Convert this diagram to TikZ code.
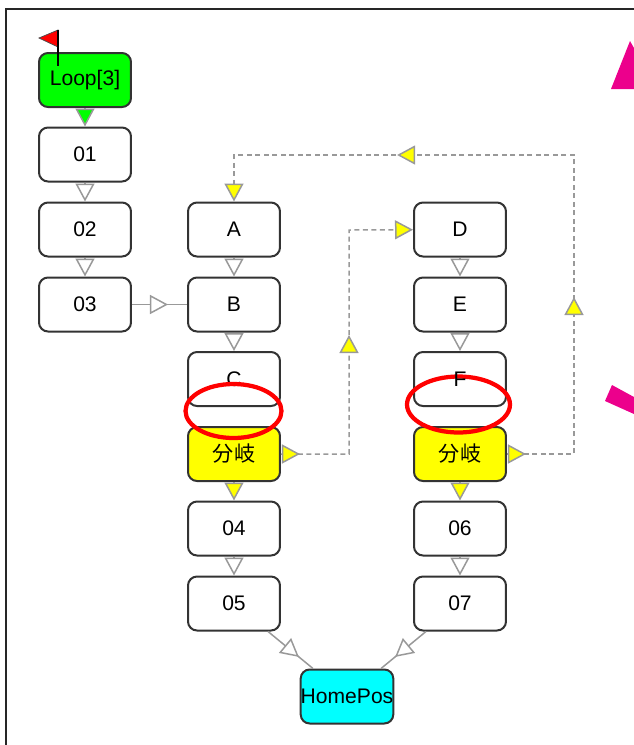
\documentclass[tikz,border=0pt]{standalone}
\usepackage{fontspec}
\setmainfont{Liberation Sans}
\newfontfamily\cjk{Noto Sans CJK JP}
\usetikzlibrary{arrows.meta,decorations.markings}
\definecolor{loopgreen}{RGB}{0,255,0}
\definecolor{forkyellow}{RGB}{255,255,0}
\definecolor{homecyan}{RGB}{0,255,255}
\definecolor{markpink}{RGB}{236,0,140}
\tikzset{
  stepbox/.style={draw=black!80,line width=.04cm,rounded corners=.18cm,minimum width=1.84cm,minimum height=1.08cm,inner sep=0pt,font=\fontsize{12}{14}\selectfont},
  whitetip/.tip={Triangle[length=.36cm,width=.38cm,fill=white]},
  greentip/.tip={Triangle[length=.36cm,width=.38cm,fill=loopgreen]},
  yellowtip/.tip={Triangle[length=.36cm,width=.38cm,fill=forkyellow]},
  link/.style={draw=black!40,line width=.03cm},
  jump/.style={link,dash pattern=on .1cm off .07cm},
  whiteat/.style={postaction={decorate,decoration={markings,mark=at position #1 with {\arrow{whitetip}}}}},
  yellowat/.style={postaction={decorate,decoration={markings,mark=at position #1 with {\arrow{yellowtip}}}}},
  lens/.style={draw=red,line width=.085cm},
}
\begin{document}
\begin{tikzpicture}[x=.02cm,y=-.02cm]
\useasboundingbox (0,0) rectangle (634,745);
\draw[black!85,line width=.035cm] (6,745) -- (6,9) -- (634,9); %frame
% left column
\node[stepbox,fill=loopgreen] (loop) at (85,80) {Loop[3]};
\node[stepbox] (n01) at (85,154.5) {01};
\node[stepbox] (n02) at (85,229.5) {02};
\node[stepbox] (n03) at (85,304.5) {03};
% middle column
\node[stepbox] (A) at (234,229.5) {A};
\node[stepbox] (B) at (234,304.5) {B};
\node[stepbox] (C) at (234,379) {C};
\node[stepbox,fill=forkyellow] (forkL) at (234,454) {\cjk 分岐};
\node[stepbox] (n04) at (234,528.5) {04};
\node[stepbox] (n05) at (234,603.5) {05};
% right column
\node[stepbox] (D) at (460,229.5) {D};
\node[stepbox] (E) at (460,304.5) {E};
\node[stepbox] (F) at (460,379) {};
\node[stepbox,fill=forkyellow] (forkR) at (460,454) {\cjk 分岐};
\node[stepbox] (n06) at (460,528.5) {06};
\node[stepbox] (n07) at (460,603.5) {07};
\node[stepbox,fill=homecyan] (home) at (347,696.5) {HomePos};
% corners of the dashed jumps
\coordinate (cornerL) at (349,230);
\coordinate (cornerR) at (574,155);
% connectors
\draw[link,-greentip] (loop) -- (n01);
\foreach \from/\to in {n01/n02,n02/n03,A/B,B/C,D/E,E/F,n04/n05,n06/n07}
  \draw[link,-whitetip] (\from) -- (\to);
\foreach \from/\to in {forkL/n04,forkR/n06}
  \draw[link,-yellowtip] (\from) -- (\to);
\draw[link,whiteat=.72cm] (n03) -- (B);
\draw[link,whiteat=.8cm] (n05) -- (home);
\draw[link,whiteat=.8cm] (n07) -- (home);
\draw[jump,-yellowtip,yellowat=.38cm,yellowat=3.74cm] (forkL) -| (cornerL) -- (D);
\draw[jump,-yellowtip,yellowat=.38cm,yellowat=4.48cm,yellowat=10.86cm] (forkR) -| (cornerR) -| (A);
% flag
\draw[black!70,fill=red,line width=.015cm] (58,30) -- (58,47) -- (39,38) -- cycle;
\draw[black,line width=.025cm] (58,30) -- (58,66);
% red marks
\draw[lens] (233.5,411) ellipse [x radius=.96cm,y radius=.54cm];
\draw[lens] (458.5,404.5) ellipse [x radius=1.03cm,y radius=.56cm];
\node[font=\fontsize{12}{14}\selectfont,inner sep=0pt] (Ftext) at (F) {F};
% pink marks at the edge
\fill[markpink] (630,41) -- (611,89) -- (634,89) -- (634,48) -- cycle;
\fill[markpink] (612,385) -- (605,401) -- (634,414) -- (634,397) -- cycle;
\end{tikzpicture}
\end{document}
